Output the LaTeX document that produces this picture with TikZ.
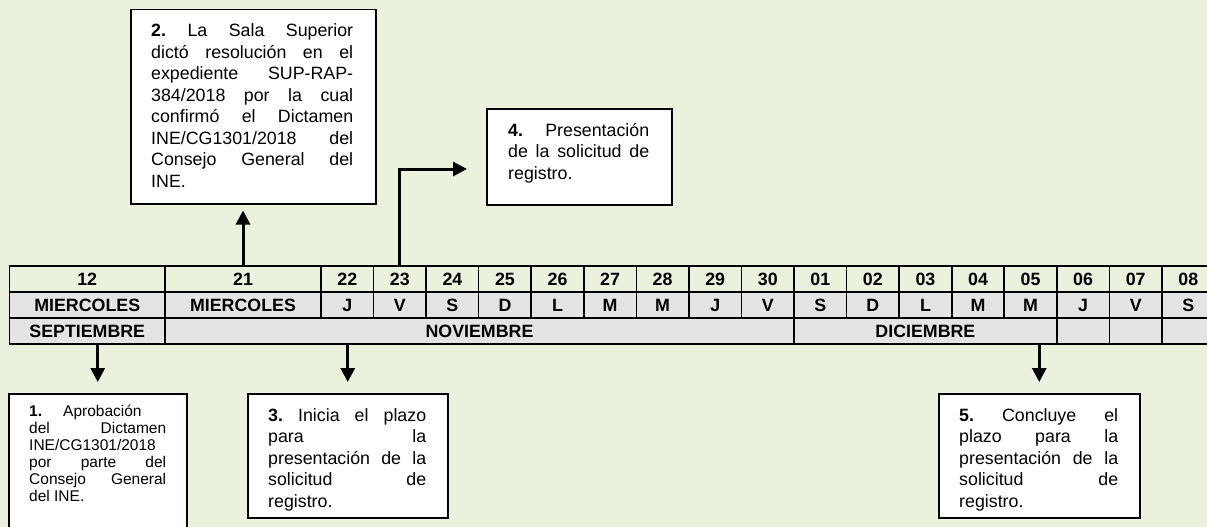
\documentclass[tikz,border=0pt]{standalone}
\usepackage{fontspec}
\setmainfont{Liberation Sans}
\usetikzlibrary{arrows.meta,calc}
\definecolor{bg}{HTML}{EAF1DD}
\definecolor{cellgray}{HTML}{E4E4E4}
\newcommand\jl[1]{\hbox to \linewidth{\frenchspacing\spaceskip=.278em plus 1fil\xspaceskip=\spaceskip\relax #1}}
\begin{document}
\begin{tikzpicture}[x=1pt,y=-1pt,
  cell/.style={draw, line width=1.6pt, inner sep=0pt, minimum height=26pt,
    font=\fontsize{17.8}{20}\selectfont\bfseries},
  gcell/.style={cell, fill=cellgray},
  box/.style={draw, line width=1.5pt, fill=white, inner sep=0pt, anchor=north west},
  txt/.style={anchor=base west, inner sep=0pt},
  arr/.style={line width=3pt, -{Triangle[length=14pt,width=14pt]}}]
\clip (0,0) rectangle (1207,527);
\fill[bg] (0,0) rectangle (1207,527);

% ---- table
\node[cell, minimum width=155.5pt] (d12) at (87.25,279) {12};
\node[cell, minimum width=156pt] (d21) at (243,279) {21};
\node[gcell, minimum width=155.5pt] (w12) at (87.25,305) {MIERCOLES};
\node[gcell, minimum width=156pt] (w21) at (243,305) {MIERCOLES};
\foreach \dd/\ww [count=\i from 0] in {22/J,23/V,24/S,25/D,26/L,27/M,28/M,29/J,30/V,01/S,02/D,03/L,04/M,05/M,06/J,07/V,08/S}{
  \node[cell, minimum width=52.56pt] (d\dd) at ({321+52.56*(\i+0.5)},279) {\dd};
  \node[gcell, minimum width=52.56pt] (w\dd) at ({321+52.56*(\i+0.5)},305) {\ww};
}
\node[gcell, minimum width=155.5pt] (m9) at (87.25,331) {SEPTIEMBRE};
\node[gcell, minimum width=629pt] (m11) at (479.5,331) {NOVIEMBRE};
\node[gcell, minimum width=262.8pt] (m12) at (925.4,331) {DICIEMBRE};
\foreach \dd/\i in {06/14,07/15,08/16}{
  \node[gcell, minimum width=52.56pt] (e\dd) at ({321+52.56*(\i+0.5)},331) {};
}

% ---- boxes
\node[box, minimum width=245pt, minimum height=194pt] (b2) at (130,9) {};
\node[box, minimum width=185pt, minimum height=96pt] (b4) at (486,108) {};
\node[box, minimum width=178pt, minimum height=160pt] (b1) at (8,393) {};
\node[box, minimum width=200pt, minimum height=124pt] (b3) at (247,393) {};
\node[box, minimum width=201pt, minimum height=124pt] (b5) at (938,393) {};

% ---- texts
\node[txt] (t2) at (151,37) {\parbox[t]{202pt}{\fontsize{17.8}{21.5}\selectfont
  \jl{\textbf{2.} La Sala Superior}
  \jl{dictó resolución en el}
  \jl{expediente SUP-RAP-}
  \jl{384/2018 por la cual}
  \jl{confirmó el Dictamen}
  \jl{INE/CG1301/2018 del}
  \jl{Consejo General del}
  \hbox{INE.}}};
\node[txt] (t4) at (508,136) {\parbox[t]{141pt}{\fontsize{17.8}{21.5}\selectfont
  \jl{\textbf{4.} Presentación}
  \jl{de la solicitud de}
  \hbox{registro.}}};
\node[txt] (t1) at (29,416) {\parbox[t]{137pt}{\fontsize{15.5}{17}\selectfont
  \hbox{\makebox[34pt][l]{\textbf{1.}}Aprobación}
  \jl{del Dictamen}
  \hbox{INE/CG1301/2018}
  \jl{por parte del}
  \jl{Consejo General}
  \hbox{del INE.}}};
\begin{scope}
\clip (b3.north west) rectangle ($(b3.south east)+(0,-8)$);
\node[txt] (t3) at (268,421) {\parbox[t]{158pt}{\fontsize{17.8}{21.5}\selectfont
  \jl{\textbf{3.} Inicia el plazo}
  \jl{para la}
  \jl{presentación de la}
  \jl{solicitud de}
  \hbox{registro.}}};
\end{scope}
\begin{scope}
\clip (b5.north west) rectangle ($(b5.south east)+(0,-8)$);
\node[txt] (t5) at (959,421) {\parbox[t]{159pt}{\fontsize{17.8}{21.5}\selectfont
  \jl{\textbf{5.} Concluye el}
  \jl{plazo para la}
  \jl{presentación de la}
  \jl{solicitud de}
  \hbox{registro.}}};
\end{scope}

% ---- arrows
\coordinate (k4) at (467,169);
\draw[arr, shorten >=6pt] (d21.north) -- (d21.north |- b2.south);
\draw[arr] (d23.north) |- (k4);
\draw[arr, shorten >=11pt] (b1.north |- m9.south) -- (b1.north);
\draw[arr, shorten >=11pt] (b3.north |- m11.south) -- (b3.north);
\draw[arr, shorten >=11pt] (b5.north |- m12.south) -- (b5.north);
\end{tikzpicture}
\end{document}
